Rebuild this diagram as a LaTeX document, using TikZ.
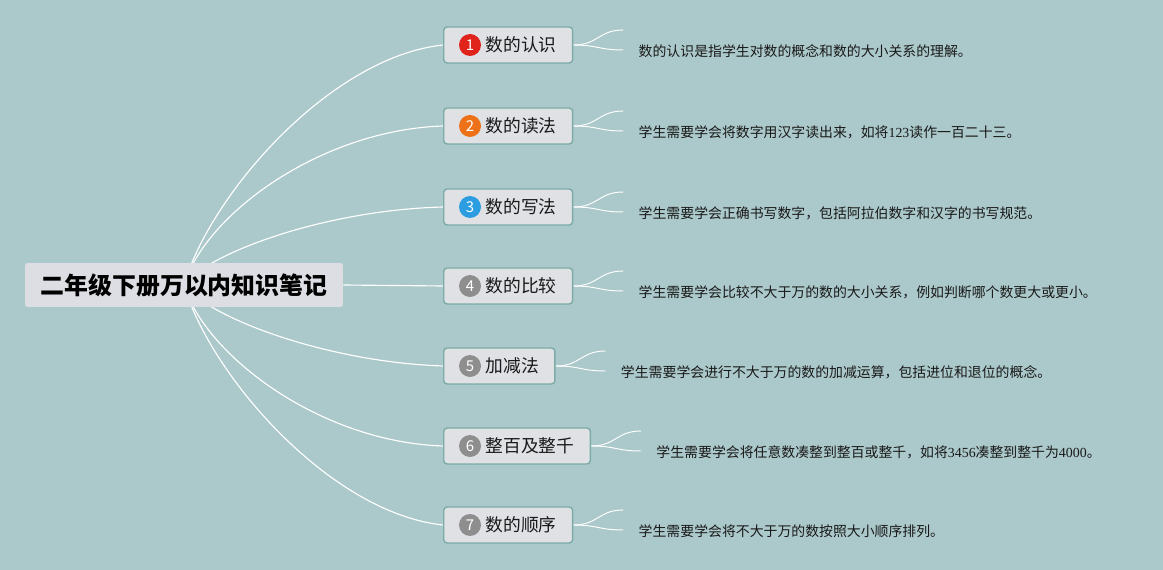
\documentclass[tikz,border=0pt]{standalone}
\usepackage{fontspec}
\setmainfont{Noto Sans CJK SC}
\newfontfamily\numfont{Liberation Serif}
\usepackage{xcolor}
\usepackage{tikz}
\usetikzlibrary{calc,positioning,backgrounds}

\definecolor{bgteal}{HTML}{ABC8CA}
\definecolor{boxfill}{HTML}{DFE1E5}
\definecolor{boxline}{HTML}{7BACA7}
\definecolor{rootfill}{HTML}{DCDEE3}
\definecolor{numred}{HTML}{E0241B}
\definecolor{numorange}{HTML}{EC7119}
\definecolor{numblue}{HTML}{2B9DE0}
\definecolor{numgray}{HTML}{8E8E8E}

\begin{document}
\begin{tikzpicture}[
    x=0.02cm, y=-0.02cm,
    root/.style={rectangle, rounded corners=1.5pt, fill=rootfill,
                 minimum width=6.36cm, minimum height=0.88cm,
                 font=\fontsize{13.6pt}{16pt}\selectfont\bfseries},
    topic/.style={rectangle, rounded corners=2pt, draw=boxline, thick,
                  fill=boxfill, anchor=west, inner xsep=0.32cm,
                  minimum height=0.72cm, text=black!90,
                  font=\fontsize{10.1pt}{12pt}\selectfont},
    numdot/.style={circle, minimum size=0.44cm, inner sep=0pt, text=white,
                   font=\fontsize{8.5pt}{10pt}\selectfont},
    leaf/.style={anchor=west, inner sep=0pt, text=black!90,
                 font=\fontsize{7.9pt}{9pt}\selectfont},
    branch/.style={white, line width=0.65pt},
    twig/.style={white, line width=0.55pt}
]
\useasboundingbox (0,0) rectangle (1163,570);

% main topic and subtopics
\node[root] (root) at (184,285) {二年级下册万以内知识笔记};

\node[topic] (t1) at (443,45)  {\hspace{0.52cm}数的认识};
\node[topic] (t2) at (443,126) {\hspace{0.52cm}数的读法};
\node[topic] (t3) at (443,207) {\hspace{0.52cm}数的写法};
\node[topic] (t4) at (443,286) {\hspace{0.52cm}数的比较};
\node[topic] (t5) at (443,366) {\hspace{0.52cm}加减法};
\node[topic] (t6) at (443,446) {\hspace{0.52cm}整百及整千};
\node[topic] (t7) at (443,525) {\hspace{0.52cm}数的顺序};

\node[numdot, fill=numred]    (n1) at ($(t1.west)+(27,0)$) {1};
\node[numdot, fill=numorange] (n2) at ($(t2.west)+(27,0)$) {2};
\node[numdot, fill=numblue]   (n3) at ($(t3.west)+(27,0)$) {3};
\node[numdot, fill=numgray]   (n4) at ($(t4.west)+(27,0)$) {4};
\node[numdot, fill=numgray]   (n5) at ($(t5.west)+(27,0)$) {5};
\node[numdot, fill=numgray]   (n6) at ($(t6.west)+(27,0)$) {6};
\node[numdot, fill=numgray]   (n7) at ($(t7.west)+(27,0)$) {7};

% notes
\node[leaf] (l1) at ($(t1.east)+(65,6)$) {数的认识是指学生对数的概念和数的大小关系的理解。};
\node[leaf] (l2) at ($(t2.east)+(65,6)$) {学生需要学会将数字用汉字读出来，如将{\numfont 123}读作一百二十三。};
\node[leaf] (l3) at ($(t3.east)+(65,6)$) {学生需要学会正确书写数字，包括阿拉伯数字和汉字的书写规范。};
\node[leaf] (l4) at ($(t4.east)+(65,6)$) {学生需要学会比较不大于万的数的大小关系，例如判断哪个数更大或更小。};
\node[leaf] (l5) at ($(t5.east)+(65,6)$) {学生需要学会进行不大于万的数的加减运算，包括进位和退位的概念。};
\node[leaf] (l6) at ($(t6.east)+(65,6)$) {学生需要学会将任意数凑整到整百或整千，如将{\numfont 3456}凑整到整千为{\numfont 4000}。};
\node[leaf] (l7) at ($(t7.east)+(65,6)$) {学生需要学会将不大于万的数按照大小顺序排列。};

\begin{scope}[on background layer]
\fill[bgteal] (0,0) rectangle (1163,570);

% branches from the root
\draw[branch] (root.center) .. controls (210,195) and (330,57)  .. (t1.west);
\draw[branch] (root.center) .. controls (205,215) and (320,130) .. (t2.west);
\draw[branch] (root.center) .. controls (208,253) and (325,210) .. (t3.west);
\draw[branch] (root.east) -- (t4.west);
\draw[branch] (root.center) .. controls (208,317) and (325,362) .. (t5.west);
\draw[branch] (root.center) .. controls (205,355) and (320,442) .. (t6.west);
\draw[branch] (root.center) .. controls (210,375) and (330,513) .. (t7.west);

% forks towards the notes
\coordinate (u1) at ($(t1.east)+(50,-15)$); \coordinate (d1) at ($(t1.east)+(50,5)$);
\coordinate (u2) at ($(t2.east)+(50,-15)$); \coordinate (d2) at ($(t2.east)+(50,5)$);
\coordinate (u3) at ($(t3.east)+(50,-15)$); \coordinate (d3) at ($(t3.east)+(50,5)$);
\coordinate (u4) at ($(t4.east)+(50,-15)$); \coordinate (d4) at ($(t4.east)+(50,5)$);
\coordinate (u5) at ($(t5.east)+(50,-15)$); \coordinate (d5) at ($(t5.east)+(50,5)$);
\coordinate (u6) at ($(t6.east)+(50,-15)$); \coordinate (d6) at ($(t6.east)+(50,5)$);
\coordinate (u7) at ($(t7.east)+(50,-15)$); \coordinate (d7) at ($(t7.east)+(50,5)$);

\draw[twig] (t1.east) .. controls +(25,0) and +(-25,0) .. (u1);
\draw[twig] (t1.east) .. controls +(25,0) and +(-25,0) .. (d1);
\draw[twig] (t2.east) .. controls +(25,0) and +(-25,0) .. (u2);
\draw[twig] (t2.east) .. controls +(25,0) and +(-25,0) .. (d2);
\draw[twig] (t3.east) .. controls +(25,0) and +(-25,0) .. (u3);
\draw[twig] (t3.east) .. controls +(25,0) and +(-25,0) .. (d3);
\draw[twig] (t4.east) .. controls +(25,0) and +(-25,0) .. (u4);
\draw[twig] (t4.east) .. controls +(25,0) and +(-25,0) .. (d4);
\draw[twig] (t5.east) .. controls +(25,0) and +(-25,0) .. (u5);
\draw[twig] (t5.east) .. controls +(25,0) and +(-25,0) .. (d5);
\draw[twig] (t6.east) .. controls +(25,0) and +(-25,0) .. (u6);
\draw[twig] (t6.east) .. controls +(25,0) and +(-25,0) .. (d6);
\draw[twig] (t7.east) .. controls +(25,0) and +(-25,0) .. (u7);
\draw[twig] (t7.east) .. controls +(25,0) and +(-25,0) .. (d7);
\end{scope}
\end{tikzpicture}
\end{document}
